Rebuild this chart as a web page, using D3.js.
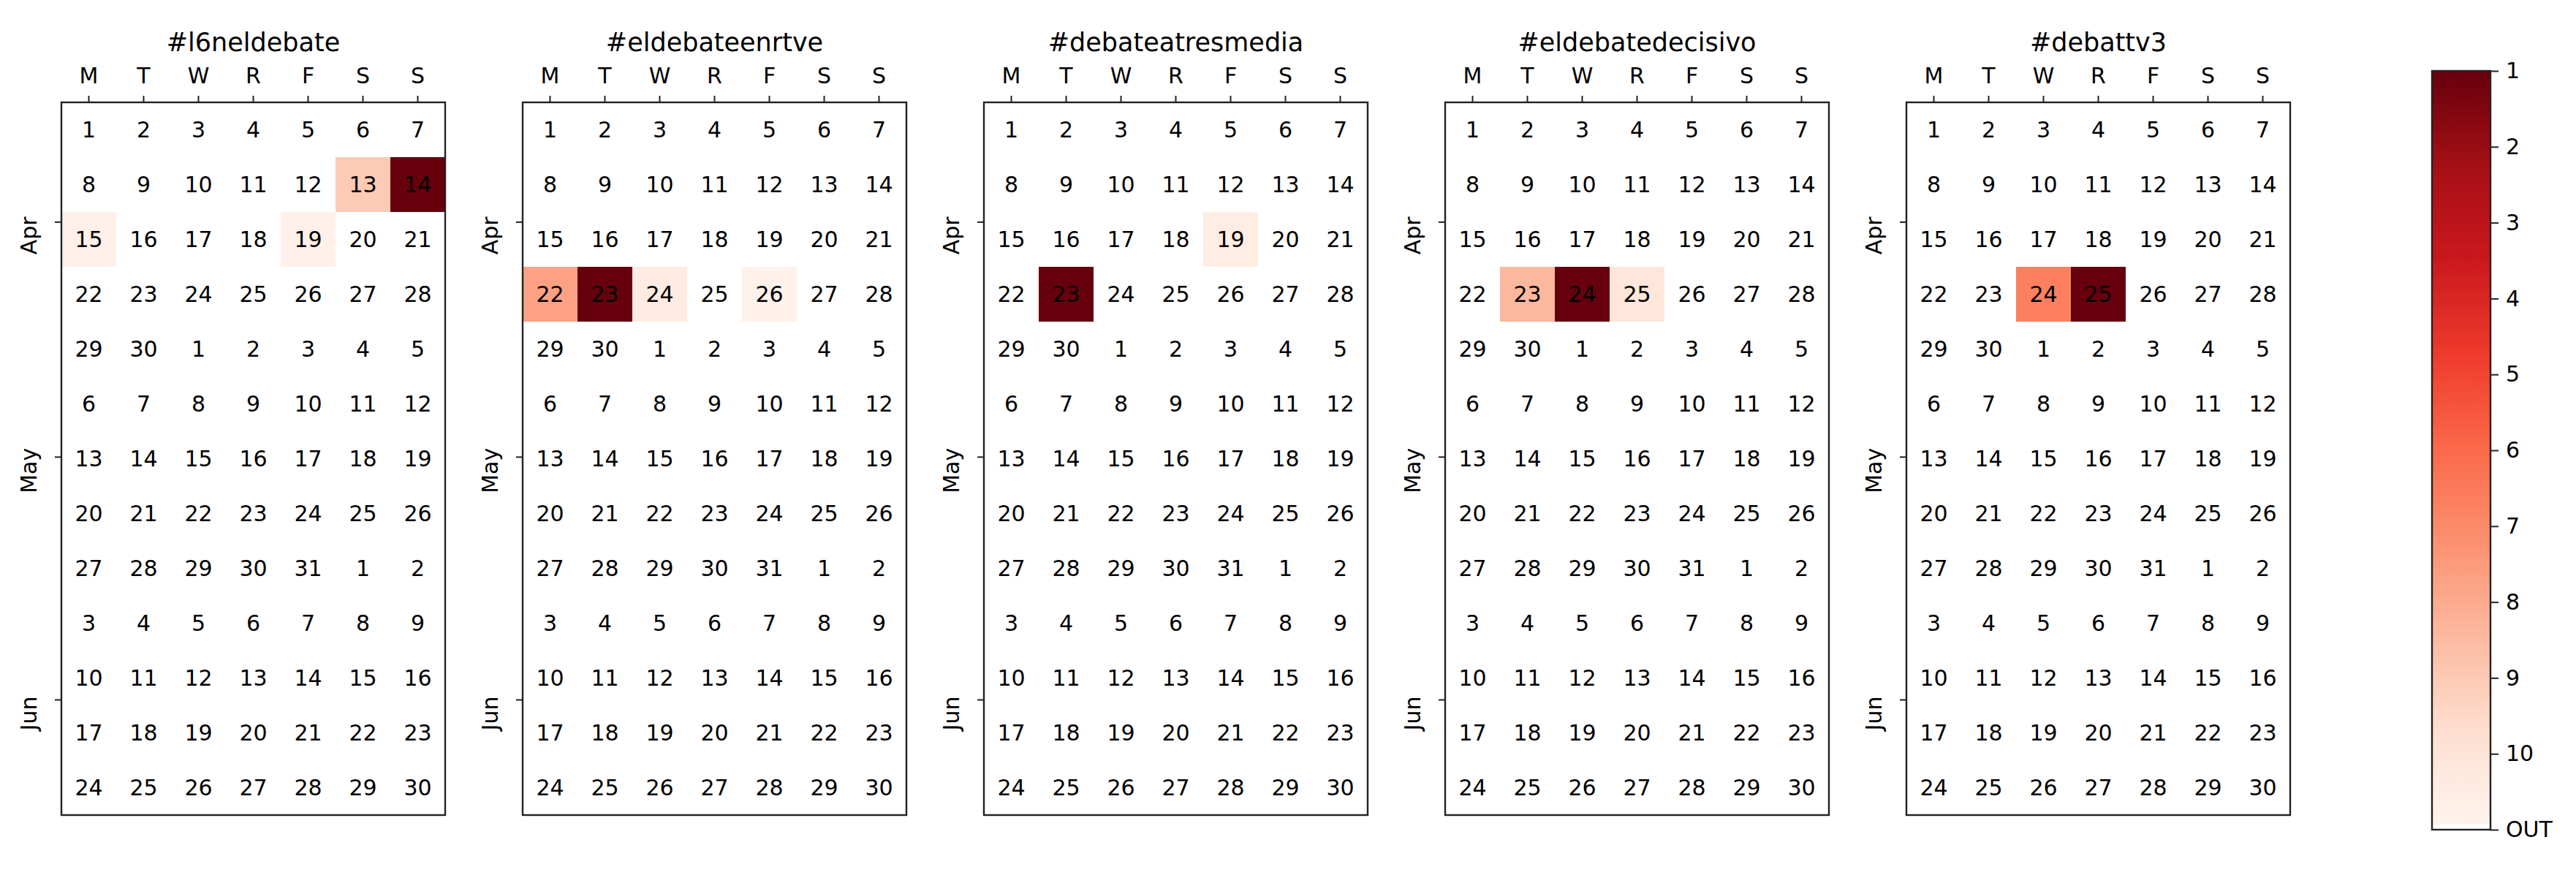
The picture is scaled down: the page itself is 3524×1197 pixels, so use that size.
<!DOCTYPE html>
<html><head><meta charset="utf-8">
<script src="https://cdn.jsdelivr.net/npm/d3@7"></script>
<style>body{margin:0;background:#fff}svg{display:block;font-family:"DejaVu Sans",sans-serif}</style>
</head><body>
<script>
// ---------- data ----------
const hashtags = ["#l6neldebate","#eldebateenrtve","#debateatresmedia","#eldebatedecisivo","#debattv3"];
const weekdays = ["M","T","W","R","F","S","S"];
const months = ["Apr","May","Jun"];
const startDate = "2019-04-01", endDate = "2019-07-01";
const cbTickLabels = ["1","2","3","4","5","6","7","8","9","10","OUT"];
// rank-like values per hashtag (1 = top, 11 = OUT)
const l6neldebate      = [["2019-04-13",9.0],["2019-04-14",1],["2019-04-15",10.7],["2019-04-19",10.7]];
const eldebateenrtve   = [["2019-04-22",7.7],["2019-04-23",1],["2019-04-24",10.4],["2019-04-26",10.8]];
const debateatresmedia = [["2019-04-19",10.5],["2019-04-23",1]];
const eldebatedecisivo = [["2019-04-23",8.4],["2019-04-24",1],["2019-04-25",10.1]];
const debattv3         = [["2019-04-24",6.7],["2019-04-25",1]];
const series = [l6neldebate, eldebateenrtve, debateatresmedia, eldebatedecisivo, debattv3];

// ---------- layout ----------
const W = 3524, H = 1197;
const cell = 75, gridTop = 140, left0 = 84, panelStep = 631;
const parse = d3.utcParse("%Y-%m-%d");
const days = d3.utcDay.range(parse(startDate), parse(endDate));
const nWeeks = Math.ceil(days.length / 7);
const redsStops = ["#fff5f0","#fee0d2","#fcbba1","#fc9272","#fb6a4a","#ef3b2c","#cb181d","#a50f15","#67000d"];
const reds = d3.scaleLinear().domain(d3.range(9).map(i => i/8)).range(redsStops).interpolate(d3.interpolateRgb).clamp(true);
const valueToT = d3.scaleLinear().domain([11, 1]).range([0, 1]);
const color = v => reds(valueToT(v));

const svg = d3.select("body").append("svg").attr("width", W).attr("height", H);
svg.append("rect").attr("width", W).attr("height", H).attr("fill", "#fff");

const fmt = d3.utcFormat("%Y-%m-%d");
const x = d3.scaleBand().domain(d3.range(7)).range([0, 7*cell]);
const y = d3.scaleLinear().domain([0, nWeeks]).range([0, nWeeks*cell]);
const dayIdx = d => Math.round((d - days[0]) / 864e5);

hashtags.forEach((tag, p) => {
  const g = svg.append("g").attr("transform", `translate(${left0 + p*panelStep},${gridTop})`);
  const vals = new Map(series[p].map(([d, v]) => [d, v]));
  g.selectAll("rect.c").data(days).join("rect").attr("class", "c")
    .attr("x", d => x(dayIdx(d) % 7))
    .attr("y", d => y(Math.floor(dayIdx(d) / 7)))
    .attr("width", x.bandwidth()).attr("height", cell)
    .attr("fill", d => vals.has(fmt(d)) ? color(vals.get(fmt(d))) : "#fff");
  g.selectAll("text.d").data(days).join("text").attr("class", "d")
    .attr("x", d => x(dayIdx(d) % 7) + x.bandwidth()/2)
    .attr("y", d => y(Math.floor(dayIdx(d) / 7) + 0.5))
    .attr("text-anchor", "middle").attr("dominant-baseline", "central")
    .attr("font-size", 30).attr("fill", "#000")
    .text(d => d.getUTCDate());
  g.append("rect").attr("x", 0).attr("y", 0).attr("width", 7*cell).attr("height", nWeeks*cell)
    .attr("fill", "none").attr("stroke", "#222").attr("stroke-width", 2.4);
  const xa = g.append("g").call(d3.axisTop(x).tickSize(9).tickPadding(17).tickFormat(i => weekdays[i]));
  xa.select(".domain").remove();
  xa.selectAll("line").attr("stroke", "#222").attr("stroke-width", 2);
  xa.selectAll("text").attr("font-size", 30).attr("fill", "#000").attr("font-family", "DejaVu Sans");
  const mt = months.map((m, i) => {
    const d = days.find(dd => dd.getUTCMonth() === 3 + i && dd.getUTCDate() === 15);
    return {m, pos: (dayIdx(d) + 1.25) / 7};
  });
  const ya = g.append("g").call(d3.axisLeft(y).tickValues(mt.map(o => o.pos)).tickSize(9).tickFormat(""));
  ya.select(".domain").remove();
  ya.selectAll("line").attr("stroke", "#222").attr("stroke-width", 2);
  g.selectAll("text.m").data(mt).join("text").attr("class", "m")
    .attr("transform", o => `translate(-34,${y(o.pos) + 19}) rotate(-90)`)
    .attr("text-anchor", "middle").attr("font-size", 30).attr("fill", "#000")
    .text(o => o.m);
  g.append("text").attr("x", 3.5*cell).attr("y", -70)
    .attr("text-anchor", "middle").attr("font-size", 35).attr("fill", "#000").text(tag);
});

// ---------- colorbar ----------
const cbX = 3327, cbW = 80, cbTop = 97, cbBot = 1135;
const defs = svg.append("defs");
const grad = defs.append("linearGradient").attr("id", "cbg").attr("x1", 0).attr("x2", 0).attr("y1", 0).attr("y2", 1);
const nStops = 60;
d3.range(nStops + 1).forEach(i => {
  const f = i / nStops * 0.993;
  grad.append("stop").attr("offset", f).attr("stop-color", reds(1 - i / nStops * 0.993));
});
grad.append("stop").attr("offset", 0.993).attr("stop-color", "#fff");
grad.append("stop").attr("offset", 1).attr("stop-color", "#fff");
const cbScale = d3.scalePoint().domain(cbTickLabels).range([cbTop, cbBot]);
svg.append("rect").attr("x", cbX).attr("y", cbTop).attr("width", cbW).attr("height", cbBot - cbTop)
  .attr("fill", "url(#cbg)").attr("stroke", "#222").attr("stroke-width", 2.4);
const cba = svg.append("g").attr("transform", `translate(${cbX + cbW},0)`)
  .call(d3.axisRight(cbScale).tickSize(11).tickPadding(10));
cba.select(".domain").remove();
cba.selectAll("line").attr("stroke", "#222").attr("stroke-width", 2);
cba.selectAll("text").attr("font-size", 30).attr("fill", "#000").attr("font-family", "DejaVu Sans");
</script>
</body></html>
